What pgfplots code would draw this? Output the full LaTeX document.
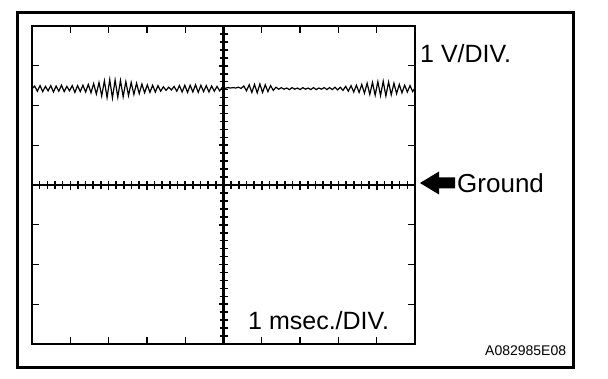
\documentclass[border=0pt]{standalone}
\usepackage{pgfplots}
\pgfplotsset{compat=1.18}
\usepackage{fontspec}
\setmainfont{Liberation Sans}
\begin{document}
\begin{tikzpicture}
\useasboundingbox (0pt,0pt) rectangle (608pt,378pt);
\fill[white] (0pt,0pt) rectangle (608pt,378pt);
\draw[line width=3pt] (17pt,11pt) rectangle (573pt,365pt);
\begin{axis}[at={(32pt,34pt)}, anchor=south west, width=383pt, height=318pt,
  scale only axis, xmin=-5, xmax=5, ymin=-4, ymax=4,
  xtick={-4,...,4}, ytick={-3,...,3}, xticklabels={}, yticklabels={},
  tick align=inside, major tick length=7pt,
  tick style={line width=1.3pt,black}, axis line style={line width=1.3pt},
  clip=false]
\addplot[black, line width=1.2pt] coordinates {
(-5.00,2.42) (-4.93,2.49) (-4.86,2.36) (-4.79,2.50) (-4.72,2.35) (-4.65,2.48)
(-4.58,2.37) (-4.51,2.50) (-4.44,2.34) (-4.37,2.49) (-4.30,2.36) (-4.23,2.51)
(-4.16,2.35) (-4.09,2.48) (-4.02,2.37) (-3.95,2.50) (-3.88,2.33) (-3.81,2.50)
(-3.74,2.35) (-3.67,2.51) (-3.60,2.34) (-3.53,2.53) (-3.46,2.32) (-3.39,2.55)
(-3.32,2.29) (-3.25,2.58) (-3.18,2.24) (-3.11,2.62) (-3.04,2.20) (-2.97,2.65)
(-2.90,2.19) (-2.83,2.64) (-2.76,2.21) (-2.69,2.63) (-2.62,2.22) (-2.55,2.60)
(-2.48,2.25) (-2.41,2.58) (-2.34,2.28) (-2.27,2.56) (-2.20,2.30) (-2.13,2.54)
(-2.06,2.32) (-1.99,2.52) (-1.92,2.33) (-1.85,2.51) (-1.78,2.34) (-1.71,2.50)
(-1.64,2.36) (-1.57,2.47) (-1.50,2.38) (-1.43,2.46) (-1.36,2.39) (-1.29,2.48)
(-1.22,2.36) (-1.15,2.50) (-1.08,2.34) (-1.01,2.51) (-0.94,2.33) (-0.87,2.51)
(-0.80,2.34) (-0.73,2.52) (-0.66,2.33) (-0.59,2.51) (-0.52,2.35) (-0.45,2.50)
(-0.38,2.34) (-0.31,2.49) (-0.24,2.36) (-0.17,2.48) (-0.10,2.37) (-0.03,2.46)
(0.04,2.43) (0.11,2.45) (0.18,2.44) (0.25,2.45) (0.32,2.44) (0.39,2.46)
(0.46,2.43) (0.53,2.49) (0.60,2.37) (0.67,2.52) (0.74,2.33) (0.81,2.53)
(0.88,2.32) (0.95,2.54) (1.02,2.33) (1.09,2.52) (1.16,2.35) (1.23,2.50)
(1.30,2.38) (1.37,2.46) (1.44,2.41) (1.51,2.45) (1.58,2.41) (1.65,2.44)
(1.72,2.40) (1.79,2.45) (1.86,2.41) (1.93,2.44) (2.00,2.40) (2.07,2.45)
(2.14,2.41) (2.21,2.44) (2.28,2.40) (2.35,2.45) (2.42,2.40) (2.49,2.44)
(2.56,2.41) (2.63,2.45) (2.70,2.40) (2.77,2.45) (2.84,2.40) (2.91,2.46)
(2.98,2.39) (3.05,2.46) (3.12,2.38) (3.19,2.48) (3.26,2.36) (3.33,2.50)
(3.40,2.34) (3.47,2.51) (3.54,2.33) (3.61,2.53) (3.68,2.31) (3.75,2.56)
(3.82,2.28) (3.89,2.58) (3.96,2.26) (4.03,2.60) (4.10,2.25) (4.17,2.61)
(4.24,2.24) (4.31,2.59) (4.38,2.27) (4.45,2.56) (4.52,2.30) (4.59,2.53)
(4.66,2.32) (4.73,2.51) (4.80,2.34) (4.87,2.50) (4.94,2.35) (5.00,2.44)
};
\end{axis}
\begin{axis}[at={(32pt,34pt)}, anchor=south west, width=383pt, height=318pt,
  scale only axis, xmin=-5, xmax=5, ymin=-4, ymax=4,
  axis lines=middle, axis line style={-, line width=2.2pt},
  xtick={-5,...,5}, ytick={-4,...,4}, minor x tick num=4, minor y tick num=4,
  xticklabels={}, yticklabels={}, tick align=center,
  major tick length=9pt, minor tick length=8pt,
  tick style={line width=1.6pt,black}]
\end{axis}
\node[anchor=base west, font=\fontsize{25}{30}\selectfont, inner sep=0pt] at (420pt,315pt) {1 V/DIV.};
\node[anchor=base west, font=\fontsize{26}{30}\selectfont, inner sep=0pt] at (457pt,185pt) {Ground};
\node[anchor=base west, font=\fontsize{25}{30}\selectfont, inner sep=0pt] at (248pt,49pt) {1 msec./DIV.};
\node[anchor=base west, font=\fontsize{14}{16}\selectfont, inner sep=0pt] at (485pt,23pt) {A082985E08};
\fill (420pt,195pt) -- (439pt,206.5pt) -- (439pt,200.5pt) -- (455pt,200.5pt) -- (455pt,189.5pt) -- (439pt,189.5pt) -- (439pt,183.5pt) -- cycle;
\end{tikzpicture}
\end{document}
